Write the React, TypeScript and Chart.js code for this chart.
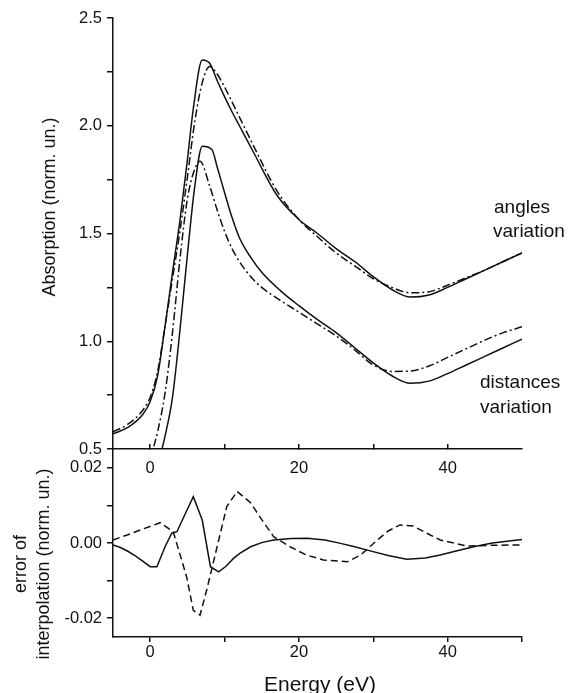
import React, { useEffect, useRef } from "react";
import { Chart, registerables } from "chart.js";
Chart.register(...registerables);

// ---------- data ----------
const energyMin = -5;
const energyMax = 50;
const absMin = 0.5;
const absMax = 2.5;
const errMin = -0.025;
const errMax = 0.025;

const topEnergyTicks = [0, 10, 20, 30, 40];
const bottomEnergyTicks = [0, 10, 20, 30, 40, 50];
const energyLabels = [0, 20, 40];
const absTicks = [0.5, 0.75, 1, 1.25, 1.5, 1.75, 2, 2.25, 2.5];
const absLabels = [0.5, 1, 1.5, 2, 2.5];
const errTicks = [-0.02, -0.01, 0, 0.01, 0.02];
const errLabels = [-0.02, 0, 0.02];

// angles variation (upper pair)
const angSolidE = [-5, -3, -1, 0, 1, 2, 3, 4, 5, 5.8, 7, 8, 9, 10, 11, 12, 14, 17, 20, 22.5, 25, 27.5, 30, 32.5, 35, 37.5, 40, 42.5, 45, 47.5, 50];
const angSolidA = [0.57, 0.6, 0.66, 0.72, 0.84, 1.07, 1.32, 1.56, 1.84, 2.08, 2.305, 2.29, 2.21, 2.135, 2.065, 2.0, 1.87, 1.68, 1.565, 1.5, 1.43, 1.37, 1.3, 1.24, 1.205, 1.215, 1.25, 1.29, 1.33, 1.37, 1.41];
const angDashE = [-5, -3, -1, 0, 1, 2, 3, 4, 5, 6, 7, 8, 9, 10, 12, 14, 17, 20, 22.5, 25, 27.5, 30, 32.5, 35, 37.5, 40, 42.5, 45, 47.5, 50];
const angDashA = [0.58, 0.615, 0.68, 0.74, 0.86, 1.07, 1.29, 1.51, 1.76, 2.02, 2.2, 2.275, 2.24, 2.18, 2.04, 1.9, 1.7, 1.565, 1.485, 1.41, 1.35, 1.29, 1.25, 1.225, 1.23, 1.26, 1.295, 1.33, 1.37, 1.41];

// distances variation (lower pair)
const distSolidE = [1, 1.6, 2, 3, 4, 5, 6, 7, 8.3, 9, 10, 11, 12, 13.5, 15, 17.5, 20, 22.5, 25, 27.5, 30, 32.5, 35, 37.5, 40, 42.5, 45, 47.5, 50];
const distSolidA = [0.4, 0.5, 0.56, 0.74, 1.05, 1.4, 1.72, 1.905, 1.89, 1.81, 1.69, 1.575, 1.48, 1.39, 1.32, 1.235, 1.165, 1.1, 1.04, 0.97, 0.9, 0.84, 0.805, 0.815, 0.85, 0.89, 0.93, 0.97, 1.01];
const distDashE = [0, 0.4, 1, 2, 3, 4, 5, 6, 6.7, 8, 9, 10, 11, 12, 13.5, 15, 17.5, 20, 22.5, 25, 27.5, 30, 32.5, 35, 37.5, 40, 42.5, 45, 47.5, 50];
const distDashA = [0.44, 0.5, 0.58, 0.76, 1.04, 1.38, 1.66, 1.8, 1.835, 1.72, 1.61, 1.51, 1.43, 1.37, 1.3, 1.25, 1.19, 1.135, 1.08, 1.025, 0.96, 0.89, 0.86, 0.862, 0.885, 0.925, 0.965, 1.005, 1.04, 1.067];

// error of interpolation
const errSolidE = [-5, -4, -3, -2, -1, 0, 0.9, 2, 2.9, 3.6, 4.7, 5.8, 7.0, 8.1, 9.2, 10.2, 11.2, 12.1, 13.5, 15, 16.6, 19, 21.1, 23.5, 25.6, 27.5, 29.2, 32, 34.5, 37, 39, 41, 43.5, 46, 50];
const errSolid = [-0.0005, -0.0012, -0.0022, -0.0034, -0.0048, -0.0063, -0.0063, -0.001, 0.0026, 0.003, 0.0077, 0.0123, 0.0061, -0.0063, -0.0077, -0.0062, -0.0041, -0.0027, -0.001, 0.0001, 0.0008, 0.0012, 0.00125, 0.0008, -0.0001, -0.001, -0.0019, -0.0033, -0.0043, -0.004, -0.0032, -0.0022, -0.001, 0, 0.0009];
const errDashE = [-5, -3, -1, 1.35, 3.1, 4.9, 5.8, 6.7, 7.6, 10.3, 11.7, 13.5, 15, 16.6, 18.8, 21, 23.3, 26.5, 28.3, 30.1, 32, 33.6, 35.4, 37, 39, 42.6, 46, 50];
const errDash = [0.0008, 0.0022, 0.0037, 0.0054, 0.003, -0.009, -0.0179, -0.0192, -0.0125, 0.0097, 0.0137, 0.0107, 0.0062, 0.0017, -0.001, -0.0032, -0.0045, -0.005, -0.0032, 0, 0.0032, 0.0048, 0.0045, 0.0028, 0.0008, -0.0008, -0.0006, -0.0005];

// ---------- layout / style ----------
const W = 569;
const H = 693;
const LEFT = 113;
const RIGHT = 522;
const TOP = 18;
const MID = 449;
const BOTTOM = 637;
const FONT = "'Liberation Sans', Arial, Helvetica, sans-serif";
const INK = "#111";
const TICK_SIZE = 16.5;

const pts = (xs: number[], ys: number[]) => xs.map((x, i) => ({ x, y: ys[i] }));

const textPlugin = {
  id: "texts",
  afterDraw(chart: any, _args: any, opts: any) {
    const ctx = chart.ctx;
    (opts.items || []).forEach((it: any) => {
      ctx.save();
      ctx.fillStyle = INK;
      ctx.font = `${it.size}px ${FONT}`;
      ctx.translate(it.x, it.y);
      if (it.rot) ctx.rotate(it.rot);
      ctx.textAlign = it.align || "center";
      ctx.textBaseline = it.baseline || "middle";
      ctx.fillText(it.text, 0, 0);
      ctx.restore();
    });
  },
};

const line = (data: any[], dash: number[] = [], smooth = false) => ({
  data,
  borderColor: INK,
  borderWidth: 1.5,
  borderDash: dash,
  pointRadius: 0,
  tension: smooth ? 0.4 : 0,
  cubicInterpolationMode: smooth ? "monotone" : "default",
  fill: false,
});

const yScale = (min: number, max: number, ticks: number[], labels: number[], digits: number) => ({
  type: "linear",
  min,
  max,
  position: "left",
  afterBuildTicks: (s: any) => {
    s.ticks = ticks.map((v) => ({ value: v }));
  },
  afterFit: (s: any) => {
    s.width = LEFT;
  },
  grid: { drawOnChartArea: false, drawTicks: true, tickLength: 6, color: INK, lineWidth: 1.5 },
  border: { display: true, color: INK, width: 1.5 },
  ticks: {
    autoSkip: false,
    padding: 5,
    color: INK,
    font: { family: FONT, size: TICK_SIZE },
    callback: (v: number) => (labels.includes(v) ? v.toFixed(digits) : ""),
  },
});

const xScale = (ticks: number[], height: number, tickLength: number, padding: number) => ({
  type: "linear",
  min: energyMin,
  max: energyMax,
  position: "bottom",
  afterBuildTicks: (s: any) => {
    s.ticks = ticks.map((v) => ({ value: v }));
  },
  afterFit: (s: any) => {
    s.height = height;
  },
  grid: { drawOnChartArea: false, drawTicks: true, tickLength, color: INK, lineWidth: 1.5 },
  border: { display: true, color: INK, width: 1.5 },
  ticks: {
    autoSkip: false,
    maxRotation: 0,
    padding,
    color: INK,
    font: { family: FONT, size: TICK_SIZE },
    callback: (v: number) => (energyLabels.includes(v) ? String(v) : ""),
  },
});

export default function App() {
  const topRef = useRef<HTMLCanvasElement>(null);
  const botRef = useRef<HTMLCanvasElement>(null);

  useEffect(() => {
    const topChart = new Chart(topRef.current as HTMLCanvasElement, {
      type: "line",
      data: {
        datasets: [
          line(pts(angSolidE, angSolidA), [], true),
          line(pts(angDashE, angDashA), [8, 3, 2, 3], true),
          line(pts(distSolidE, distSolidA), [], true),
          line(pts(distDashE, distDashA), [8, 3, 2, 3], true),
        ] as any,
      },
      options: {
        responsive: false,
        animation: false,
        layout: { padding: { left: 0, right: W - RIGHT, top: TOP, bottom: H - MID - 30 } },
        scales: {
          x: xScale(topEnergyTicks, 30, -5, 15),
          y: yScale(absMin, absMax, absTicks, absLabels, 1),
        } as any,
        plugins: {
          legend: { display: false },
          tooltip: { enabled: false },
          texts: {
            items: [
              { text: "Absorption (norm. un.)", x: 50, y: 207, rot: -Math.PI / 2, size: 18 },
              { text: "angles", x: 494, y: 208, align: "left", size: 19 },
              { text: "variation", x: 493, y: 232, align: "left", size: 19 },
              { text: "distances", x: 480, y: 383, align: "left", size: 19 },
              { text: "variation", x: 480, y: 408, align: "left", size: 19 },
            ],
          },
        } as any,
      },
      plugins: [textPlugin],
    });

    const botChart = new Chart(botRef.current as HTMLCanvasElement, {
      type: "line",
      data: {
        datasets: [line(pts(errSolidE, errSolid)), line(pts(errDashE, errDash), [7, 4])] as any,
      },
      options: {
        responsive: false,
        animation: false,
        layout: { padding: { left: 0, right: W - RIGHT, top: MID, bottom: 0 } },
        scales: {
          x: xScale(bottomEnergyTicks, H - BOTTOM, 5, 1),
          y: yScale(errMin, errMax, errTicks, errLabels, 2),
        } as any,
        plugins: {
          legend: { display: false },
          tooltip: { enabled: false },
          texts: {
            items: [
              { text: "error of", x: 21, y: 564, rot: -Math.PI / 2, size: 18 },
              { text: "interpolation (norm. un.)", x: 44, y: 564, rot: -Math.PI / 2, size: 18 },
              { text: "Energy (eV)", x: 320, y: 691, baseline: "alphabetic", size: 21 },
            ],
          },
        } as any,
      },
      plugins: [textPlugin],
    });

    return () => {
      topChart.destroy();
      botChart.destroy();
    };
  }, []);

  return (
    <div style={{ position: "fixed", left: 0, top: 0, width: W, height: H, background: "#fff", overflow: "hidden" }}>
      <canvas ref={botRef} width={W} height={H} style={{ position: "absolute", left: 0, top: 0, width: W, height: H }} />
      <canvas ref={topRef} width={W} height={H} style={{ position: "absolute", left: 0, top: 0, width: W, height: H }} />
    </div>
  );
}
